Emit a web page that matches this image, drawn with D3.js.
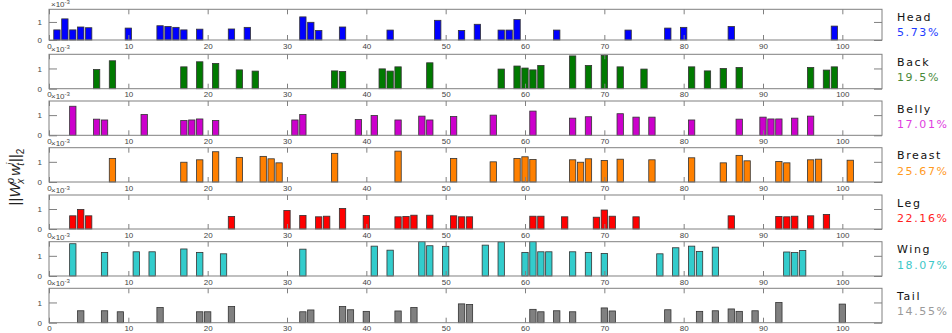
<!DOCTYPE html>
<html>
<head>
<meta charset="utf-8">
<script src="https://cdn.jsdelivr.net/npm/d3@7"></script>
<style>
  body { margin: 0; background: #fff; }
  svg { display: block; font-family: "Liberation Sans", Arial, sans-serif; }
  .axis path { display: none; }
  .axis line { stroke: #808080; }
  .axis text { fill: #444; font-size: 8px; font-family: "Liberation Sans", Arial, sans-serif; }
  .frame { fill: none; stroke: #808080; stroke-width: 1; }
  .bar { stroke: #333; stroke-width: 0.8; }
  .part-name { font-family: "DejaVu Sans", sans-serif; font-size: 11px; letter-spacing: 1.6px; fill: #111; }
  .part-share { font-family: "DejaVu Sans", sans-serif; font-size: 11px; letter-spacing: 1.6px; }
</style>
</head>
<body>
<svg id="chart"></svg>
<script>
// body parts and their share of the total
const parts = ['Head', 'Back', 'Belly', 'Breast', 'Leg', 'Wing', 'Tail'];
const shares = ['5.73%', '19.5%', '17.01%', '25.67%', '22.16%', '18.07%', '14.55%'];
const xTicks = [0, 10, 20, 30, 40, 50, 60, 70, 80, 90, 100];
const yTicks = [0, 1];

// [filter index, norm (x1e-3)]
const head = [[1,0.56],[2,1.17],[3,0.56],[4,0.72],[5,0.68],[10,0.66],[14,0.79],[15,0.75],[16,0.7],[17,0.56],
  [19,0.6],[23,0.61],[25,0.7],[32,1.28],[33,0.98],[34,0.53],[37,0.72],[43,0.55],[49,1.09],[52,0.53],[54,0.87],
  [57,0.55],[58,0.55],[59,1.13],[64,0.55],[73,0.55],[78,0.66],[80,0.7],[86,0.75],[99,0.77]];
const back = [[6,0.95],[8,1.38],[17,1.08],[19,1.33],[21,1.25],[24,0.93],[26,0.87],[36,0.88],[37,0.85],[42,0.98],
  [43,0.87],[44,1.08],[48,1.28],[57,0.97],[59,1.12],[60,1.02],[61,0.93],[62,1.15],[66,1.62],[68,1.15],[70,1.65],
  [72,1.08],[75,0.97],[81,1.08],[83,0.88],[85,1.0],[87,1.05],[96,1.05],[98,0.92],[99,1.08]];
const belly = [[3,1.44],[6,0.8],[7,0.76],[12,1.03],[17,0.73],[18,0.76],[19,0.81],[21,0.73],[31,0.76],[32,1.03],
  [39,0.78],[41,0.98],[44,0.76],[47,0.95],[48,0.76],[51,0.93],[56,1.0],[61,1.2],[66,0.85],[68,0.92],[72,1.07],
  [74,0.9],[76,0.9],[81,0.76],[87,0.8],[90,0.9],[91,0.81],[92,0.81],[94,0.85],[96,0.95]];
const breast = [[8,1.17],[17,0.98],[19,1.1],[21,1.5],[24,1.22],[27,1.27],[28,1.15],[29,0.95],[36,1.42],[44,1.53],
  [51,1.17],[56,1.0],[59,1.17],[60,1.25],[61,1.12],[66,1.1],[67,0.98],[68,1.15],[70,1.07],[72,1.13],[76,1.1],
  [81,1.2],[85,0.95],[87,1.32],[88,1.05],[92,1.02],[93,0.95],[96,1.1],[97,1.13],[101,1.08]];
const leg = [[3,0.66],[4,0.98],[5,0.66],[23,0.63],[30,0.93],[32,0.68],[34,0.61],[35,0.64],[37,1.03],[40,0.68],
  [44,0.61],[45,0.63],[46,0.69],[48,0.69],[51,0.66],[52,0.61],[53,0.61],[61,0.64],[62,0.64],[65,0.61],[69,0.59],
  [70,0.95],[71,0.64],[74,0.61],[86,0.66],[92,0.63],[93,0.61],[94,0.64],[96,0.66],[98,0.73]];
const wing = [[3,1.6],[7,1.17],[11,1.2],[13,1.2],[17,1.34],[19,1.17],[22,1.1],[32,1.33],[41,1.48],[43,1.28],
  [47,1.7],[48,1.5],[50,1.47],[55,1.53],[57,1.69],[60,1.17],[61,1.7],[62,1.2],[63,1.2],[66,1.2],[68,1.17],
  [70,1.12],[77,1.1],[79,1.4],[81,1.48],[82,1.22],[84,1.43],[93,1.19],[94,1.16],[95,1.26]];
const tail = [[4,0.59],[7,0.59],[9,0.54],[14,0.75],[19,0.54],[20,0.54],[23,0.8],[32,0.54],[33,0.63],[37,0.8],
  [38,0.64],[40,0.56],[44,0.58],[46,0.75],[52,0.93],[53,0.9],[61,0.66],[62,0.54],[64,0.59],[66,0.54],[70,0.73],
  [71,0.58],[78,0.64],[82,0.56],[84,0.59],[86,0.68],[87,0.56],[89,0.59],[92,1.0],[100,0.92]];

const series = [head, back, belly, breast, leg, wing, tail];
const barColors = ['#0000ff', '#007a00', '#cc00cc', '#ff8000', '#ff0000', '#33cccc', '#808080'];
const shareColors = ['#1e3cff', '#4a8a3a', '#e03ce0', '#ff9a1e', '#ff1e1e', '#3cc8c8', '#9a9a9a'];

// panel boxes (top, height) in page pixels
const panelTops = [9.3, 54.3, 101, 147.7, 195, 241.7, 288.3];
const panelHeights = [30.7, 34.4, 34.3, 34.3, 34, 34.3, 34.4];

class PartBars {

    constructor(_config, _data) {
        this.config = {
            parentElement: _config.parentElement,
            left: 49,
            right: 882,
            top: _config.top,
            height: _config.height,
            color: _config.color,
            name: _config.name,
            share: _config.share,
            shareColor: _config.shareColor
        };
        this.data = _data;
        this.initVis();
    }

    initVis() {
        let vis = this;
        vis.width = vis.config.right - vis.config.left;

        vis.xScale = d3.scaleLinear().domain([0, 105]).range([0, vis.width]);
        vis.yScale = d3.scaleLinear().domain([0, 1.7]).range([vis.config.height, 0]);

        vis.chart = d3.select(vis.config.parentElement).append('g')
            .attr('transform', `translate(${vis.config.left},${vis.config.top})`);

        // bars
        const bw = vis.xScale(0.8) - vis.xScale(0);
        vis.chart.selectAll('.bar')
            .data(vis.data)
            .join('rect')
            .attr('class', 'bar')
            .attr('x', d => vis.xScale(d[0]) - bw / 2)
            .attr('width', bw)
            .attr('y', d => vis.yScale(d[1]))
            .attr('height', d => vis.config.height - vis.yScale(d[1]))
            .attr('fill', vis.config.color);

        // inward ticks on all four sides, labels only bottom/left
        vis.chart.append('g')
            .attr('class', 'axis x-axis')
            .attr('transform', `translate(0,${vis.config.height})`)
            .call(d3.axisBottom(vis.xScale).tickValues(xTicks).tickSize(-5).tickPadding(3).tickFormat(d3.format('d')));
        vis.chart.append('g')
            .attr('class', 'axis')
            .call(d3.axisTop(vis.xScale).tickValues(xTicks).tickSize(-5).tickFormat(''));
        vis.chart.append('g')
            .attr('class', 'axis y-axis')
            .call(d3.axisLeft(vis.yScale).tickValues(yTicks).tickSize(-8).tickPadding(7).tickFormat(d3.format('d')));
        vis.chart.append('g')
            .attr('class', 'axis')
            .attr('transform', `translate(${vis.width},0)`)
            .call(d3.axisRight(vis.yScale).tickValues(yTicks).tickSize(-8).tickFormat(''));

        vis.chart.append('rect')
            .attr('class', 'frame')
            .attr('width', vis.width)
            .attr('height', vis.config.height);

        // x10^-3 exponent
        const ex = vis.chart.append('text')
            .attr('x', 2)
            .attr('y', -2)
            .attr('fill', '#444')
            .attr('font-size', '8px');
        ex.append('tspan').text('×10');
        ex.append('tspan').attr('dy', -3).attr('font-size', '6px').text('-3');

        // part name and share
        vis.chart.append('text')
            .attr('class', 'part-name')
            .attr('x', 848)
            .attr('y', 11.5)
            .text(vis.config.name);
        vis.chart.append('text')
            .attr('class', 'part-share')
            .attr('x', 848)
            .attr('y', 27)
            .attr('fill', vis.config.shareColor)
            .text(vis.config.share);
    }
}

const svg = d3.select('#chart')
    .attr('width', 952)
    .attr('height', 333);

parts.forEach((p, i) => {
    new PartBars({
        parentElement: '#chart',
        top: panelTops[i],
        height: panelHeights[i],
        color: barColors[i],
        name: p,
        share: shares[i],
        shareColor: shareColors[i]
    }, series[i]);
});

// y label ||W_x^p w_t^i||_2
const yl = svg.append('text')
    .attr('transform', 'translate(20,177) rotate(-90)')
    .attr('text-anchor', 'middle')
    .attr('font-size', '15px')
    .attr('fill', '#222');
yl.append('tspan').text('||');
yl.append('tspan').attr('font-style', 'italic').text('W');
yl.append('tspan').attr('font-style', 'italic').attr('font-size', '10px').attr('dy', -6).text('p');
yl.append('tspan').attr('font-style', 'italic').attr('font-size', '10px').attr('dx', -6).attr('dy', 10).text('x');
yl.append('tspan').attr('font-style', 'italic').attr('dx', 3).attr('dy', -4).text('w');
yl.append('tspan').attr('font-style', 'italic').attr('font-size', '10px').attr('dy', -6).text('i');
yl.append('tspan').attr('font-style', 'italic').attr('font-size', '10px').attr('dx', -3).attr('dy', 10).text('t');
yl.append('tspan').attr('dx', 1).attr('dy', -4).text('||');
yl.append('tspan').attr('font-size', '10px').attr('dy', 4).text('2');
</script>
</body>
</html>
